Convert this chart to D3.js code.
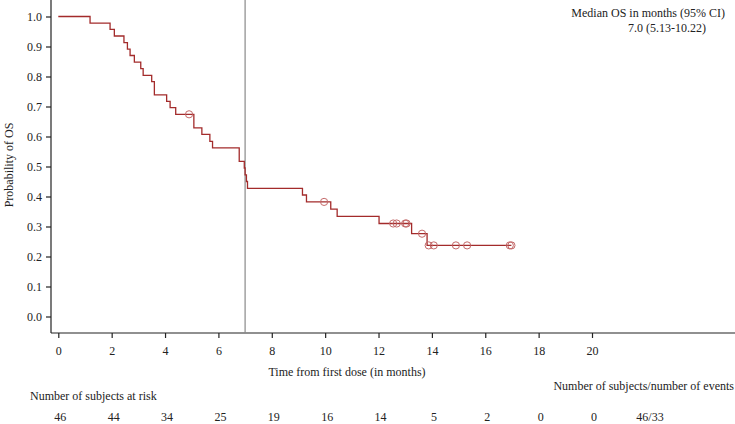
<!DOCTYPE html>
<html>
<head>
<meta charset="utf-8">
<script src="https://cdn.jsdelivr.net/npm/d3@7"></script>
<style>
body { margin: 0; background: #fff; }
text { font-family: "Liberation Serif", "Times New Roman", serif; fill: #222; }
</style>
</head>
<body>
<svg id="chart" width="735" height="424"></svg>
<script>
// KM step points (time in months, survival after the step)
var stepTimes = [0, 1.19, 1.94, 2.10, 2.46, 2.59, 2.69, 2.85, 3.09, 3.18, 3.50, 3.60, 4.06, 4.19, 4.40,
                 5.08, 5.38, 5.68, 5.78, 6.78, 6.97, 7.00, 7.05, 7.09, 9.15, 9.30, 10.21, 10.45,
                 12.02, 13.24, 13.82];
var stepSurv = [1.0, 0.978, 0.957, 0.935, 0.913, 0.891, 0.870, 0.848, 0.826, 0.804, 0.783, 0.739, 0.717, 0.696, 0.674,
                0.629, 0.607, 0.584, 0.562, 0.517, 0.495, 0.472, 0.450, 0.427, 0.405, 0.382, 0.358, 0.334,
                0.310, 0.276, 0.237];
var curveEnd = 16.98;
var censorTimes = [4.90, 9.96, 12.55, 12.68, 13.00, 13.05, 13.63, 13.88, 14.07, 14.90, 15.32, 16.92, 16.98];
var censorSurv = [0.674, 0.382, 0.310, 0.310, 0.310, 0.310, 0.276, 0.237, 0.237, 0.237, 0.237, 0.237, 0.237];
var medianOS = 7.0;

var xTicks = [0, 2, 4, 6, 8, 10, 12, 14, 16, 18, 20];
var yTicks = [0, 0.1, 0.2, 0.3, 0.4, 0.5, 0.6, 0.7, 0.8, 0.9, 1.0];
var riskTimes = [0, 2, 4, 6, 8, 10, 12, 14, 16, 18, 20];
var atRisk = ["46", "44", "34", "25", "19", "16", "14", "5", "2", "0", "0"];
var totals = "46/33";

var svg = d3.select("#chart");
var x = d3.scaleLinear().domain([0, 20]).range([58.3, 592]);
var y = d3.scaleLinear().domain([0, 1]).range([316.5, 16.5]);
var axisLeft = 51, axisBottom = 333;

// axes
var yAxis = svg.append("g").attr("transform", "translate(" + axisLeft + ",0)")
  .call(d3.axisLeft(y).tickValues(yTicks).tickFormat(d3.format(".1f")).tickSizeOuter(0).tickSize(5).tickPadding(4));
yAxis.select(".domain").attr("d", "M0,0V" + axisBottom);

var xAxis = svg.append("g").attr("transform", "translate(0," + axisBottom + ")")
  .call(d3.axisBottom(x).tickValues(xTicks).tickFormat(d3.format("d")).tickSizeOuter(0).tickSize(5).tickPadding(8));
xAxis.select(".domain").attr("d", "M" + axisLeft + ",0H735");

svg.selectAll(".tick text").attr("font-size", 12).attr("fill", "#222").style("font-family", "Liberation Serif");
svg.selectAll(".domain, .tick line").attr("stroke", "#222").attr("stroke-width", 1.2);

svg.append("text").attr("x", 347).attr("y", 376).attr("text-anchor", "middle")
  .attr("font-size", 12).text("Time from first dose (in months)");
svg.append("text").attr("transform", "translate(13,165) rotate(-90)").attr("text-anchor", "middle")
  .attr("font-size", 12).text("Probability of OS");

// median line
svg.append("line").attr("x1", x(medianOS)).attr("x2", x(medianOS)).attr("y1", 0).attr("y2", axisBottom)
  .attr("stroke", "#888").attr("stroke-width", 1.2);

// KM curve
var pts = stepTimes.map(function(t, i) { return [t, stepSurv[i]]; });
pts.push([curveEnd, stepSurv[stepSurv.length - 1]]);
var line = d3.line().x(function(d) { return x(d[0]); }).y(function(d) { return y(d[1]); }).curve(d3.curveStepAfter);
svg.append("path").attr("d", line(pts)).attr("fill", "none").attr("stroke", "#a32b2b").attr("stroke-width", 1.3);

svg.selectAll(".cens").data(censorTimes).enter().append("circle")
  .attr("class", "cens")
  .attr("cx", function(d) { return x(d); })
  .attr("cy", function(d, i) { return y(censorSurv[i]); })
  .attr("r", 3.6).attr("fill", "none").attr("stroke", "#c46a6a").attr("stroke-width", 1);

// legend
svg.append("text").attr("x", 725).attr("y", 17).attr("text-anchor", "end").attr("font-size", 12)
  .text("Median OS in months (95% CI)");
svg.append("text").attr("x", 706).attr("y", 32).attr("text-anchor", "end").attr("font-size", 12)
  .text("7.0 (5.13-10.22)");

// risk table
svg.append("text").attr("x", 30).attr("y", 400).attr("font-size", 12).text("Number of subjects at risk");
svg.append("text").attr("x", 734).attr("y", 390).attr("text-anchor", "end").attr("font-size", 12)
  .text("Number of subjects/number of events");
svg.selectAll(".risk").data(riskTimes).enter().append("text")
  .attr("class", "risk")
  .attr("x", function(d) { return x(d) + 2; })
  .attr("y", 421).attr("text-anchor", "middle").attr("font-size", 12)
  .text(function(d, i) { return atRisk[i]; });
svg.append("text").attr("x", 650).attr("y", 421).attr("text-anchor", "middle").attr("font-size", 12).text(totals);
</script>
</body>
</html>
